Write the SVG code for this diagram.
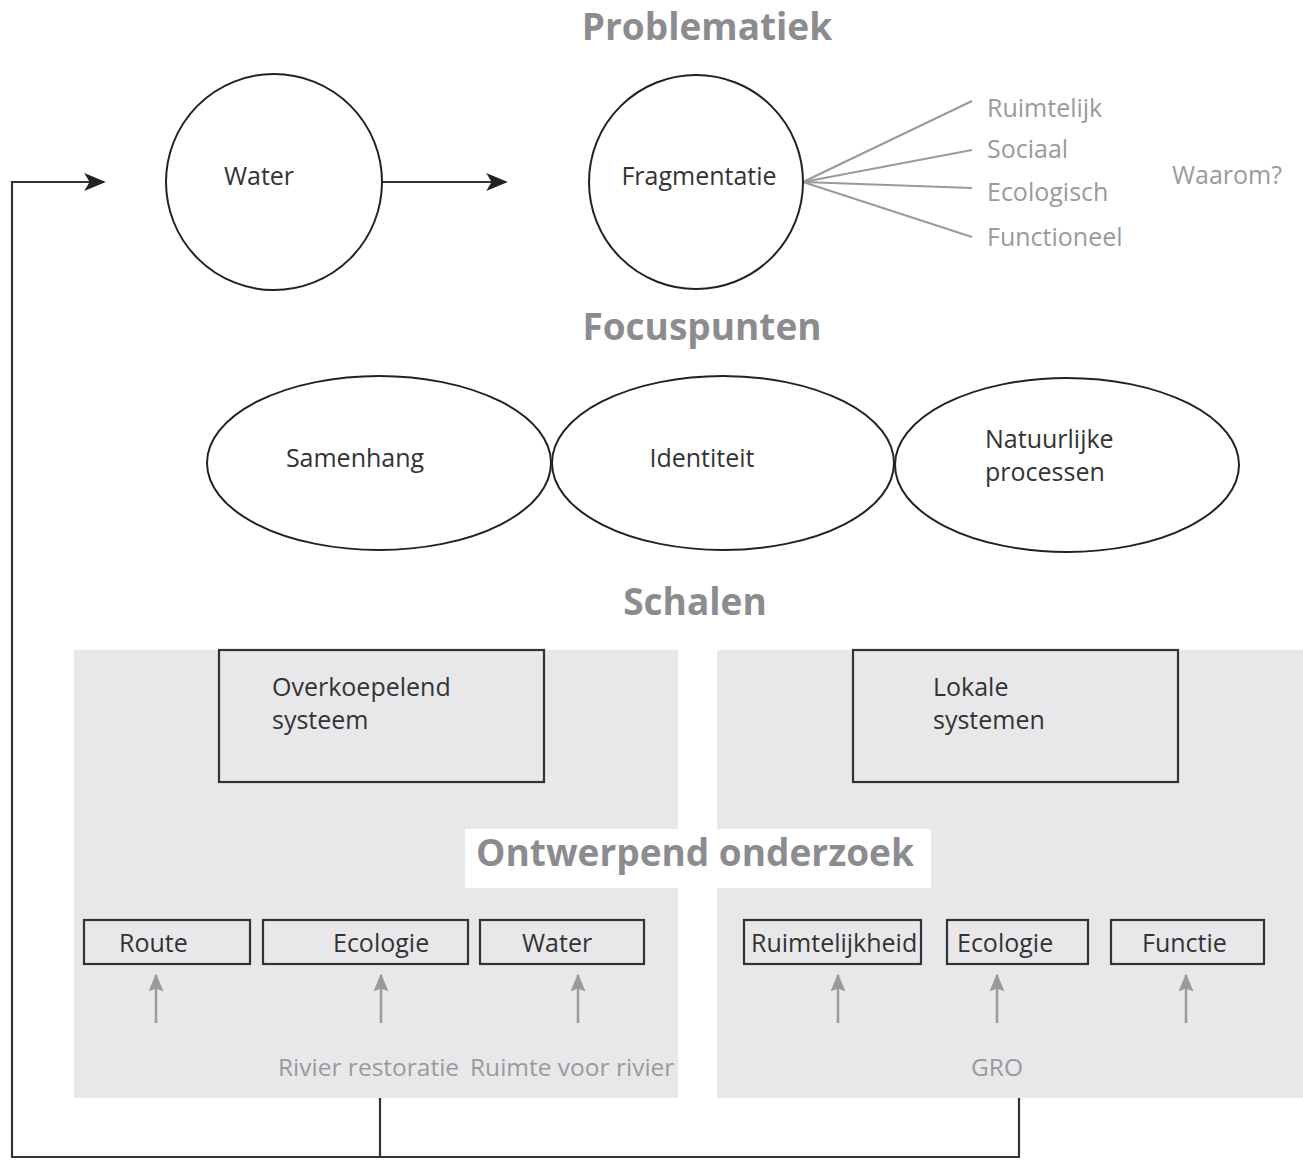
<svg xmlns="http://www.w3.org/2000/svg" width="1303" height="1160" viewBox="0 0 1303 1160">
<defs>
<style>
.t{font-family:"Open Sans","Noto Sans","Liberation Sans",sans-serif;font-size:25px;fill:#333}
.g{font-family:"Open Sans","Noto Sans","Liberation Sans",sans-serif;font-size:25px;fill:#9a9a9c}
.gs{font-family:"Open Sans","Noto Sans","Liberation Sans",sans-serif;font-size:24.5px;fill:#9a9a9c}
.h{font-family:"Open Sans","Noto Sans","Liberation Sans",sans-serif;font-size:37px;font-weight:bold;fill:#8c8c90}
.n{fill:#fff;stroke:#222;stroke-width:2}
.b{fill:none;stroke:#333;stroke-width:2.2}
.p{fill:#e8e8ea}
.c{fill:none;stroke:#333;stroke-width:2.2}
.f{fill:none;stroke:#9a9a9c;stroke-width:2}
.ga{fill:none;stroke:#9a9a9c;stroke-width:2.5}
</style>
<marker id="ga" viewBox="0 0 12 10" refX="11" refY="5" markerWidth="19" markerHeight="15" markerUnits="userSpaceOnUse" orient="auto">
<path d="M0,0 L12,5 L0,10 L2,5 Z" fill="#9a9a9c"/>
</marker>
<marker id="bh" viewBox="0 0 12 10" refX="11" refY="5" markerWidth="24" markerHeight="18" markerUnits="userSpaceOnUse" orient="auto">
<path d="M0,0 L12,5 L0,10 L3,5 Z" fill="#222"/>
</marker>
</defs>
<rect width="1303" height="1160" fill="#fff"/>

<g id="panels">
<rect class="p" x="74" y="650" width="604" height="448"/>
<rect class="p" x="717" y="650" width="586" height="448"/>
</g>

<g id="headings">
<text class="h" x="707" y="40" text-anchor="middle">Problematiek</text>
<text class="h" x="702" y="340" text-anchor="middle">Focuspunten</text>
<text class="h" x="695" y="615" text-anchor="middle">Schalen</text>
<rect x="465" y="829" width="466" height="59" fill="#fff"/>
<text class="h" x="695" y="866" text-anchor="middle">Ontwerpend onderzoek</text>
</g>

<g id="connectors">
<polyline class="c" points="380,1098 380,1157 12,1157 12,182 104,182" marker-end="url(#bh)"/>
<polyline class="c" points="1019,1098 1019,1157 380,1157"/>
<line class="c" x1="382" y1="182" x2="506" y2="182" marker-end="url(#bh)"/>
<line class="f" x1="803" y1="182" x2="972" y2="101"/>
<line class="f" x1="803" y1="182" x2="972" y2="150"/>
<line class="f" x1="803" y1="182" x2="972" y2="188"/>
<line class="f" x1="803" y1="182" x2="972" y2="237"/>
<line class="ga" x1="156" y1="1023" x2="156" y2="975" marker-end="url(#ga)"/>
<line class="ga" x1="381" y1="1023" x2="381" y2="975" marker-end="url(#ga)"/>
<line class="ga" x1="578" y1="1023" x2="578" y2="975" marker-end="url(#ga)"/>
<line class="ga" x1="838" y1="1023" x2="838" y2="975" marker-end="url(#ga)"/>
<line class="ga" x1="997" y1="1023" x2="997" y2="975" marker-end="url(#ga)"/>
<line class="ga" x1="1186" y1="1023" x2="1186" y2="975" marker-end="url(#ga)"/>
</g>

<g id="water">
<circle class="n" cx="274" cy="182" r="108"/>
<text class="t" x="259" y="185" text-anchor="middle">Water</text>
</g>
<g id="fragmentatie">
<circle class="n" cx="696" cy="182" r="107"/>
<text class="t" x="699" y="185" text-anchor="middle">Fragmentatie</text>
</g>
<g id="fan-labels">
<text class="g" x="987" y="117">Ruimtelijk</text>
<text class="g" x="987" y="158">Sociaal</text>
<text class="g" x="987" y="201">Ecologisch</text>
<text class="g" x="987" y="246">Functioneel</text>
<text class="g" x="1172" y="184">Waarom?</text>
</g>

<g id="samenhang">
<ellipse class="n" cx="379" cy="463" rx="172" ry="87"/>
<text class="t" x="355" y="467" text-anchor="middle">Samenhang</text>
</g>
<g id="identiteit">
<ellipse class="n" cx="723" cy="463" rx="171" ry="87"/>
<text class="t" x="702" y="467" text-anchor="middle">Identiteit</text>
</g>
<g id="natuurlijke">
<ellipse class="n" cx="1067" cy="465" rx="172" ry="87"/>
<text class="t" x="985" y="448">Natuurlijke</text>
<text class="t" x="985" y="481">processen</text>
</g>

<g id="overkoepelend">
<rect class="b" x="219" y="650" width="325" height="132"/>
<text class="t" x="272" y="696">Overkoepelend</text>
<text class="t" x="272" y="729">systeem</text>
</g>
<g id="lokale">
<rect class="b" x="853" y="650" width="325" height="132"/>
<text class="t" x="933" y="696">Lokale</text>
<text class="t" x="933" y="729">systemen</text>
</g>

<g id="route"><rect class="b" x="84" y="920" width="166" height="44"/><text class="t" x="119" y="952">Route</text></g>
<g id="ecologie1"><rect class="b" x="263" y="920" width="205" height="44"/><text class="t" x="333" y="952">Ecologie</text></g>
<g id="water2"><rect class="b" x="480" y="920" width="164" height="44"/><text class="t" x="522" y="952">Water</text></g>
<g id="ruimtelijkheid"><rect class="b" x="744" y="920" width="177" height="44"/><text class="t" x="751" y="952">Ruimtelijkheid</text></g>
<g id="ecologie2"><rect class="b" x="947" y="920" width="141" height="44"/><text class="t" x="957" y="952">Ecologie</text></g>
<g id="functie"><rect class="b" x="1111" y="920" width="153" height="44"/><text class="t" x="1142" y="952">Functie</text></g>

<g id="bottom-labels">
<text class="gs" x="278" y="1076">Rivier restoratie</text>
<text class="gs" x="470" y="1076">Ruimte voor rivier</text>
<text class="gs" x="997" y="1076" text-anchor="middle">GRO</text>
</g>
</svg>
